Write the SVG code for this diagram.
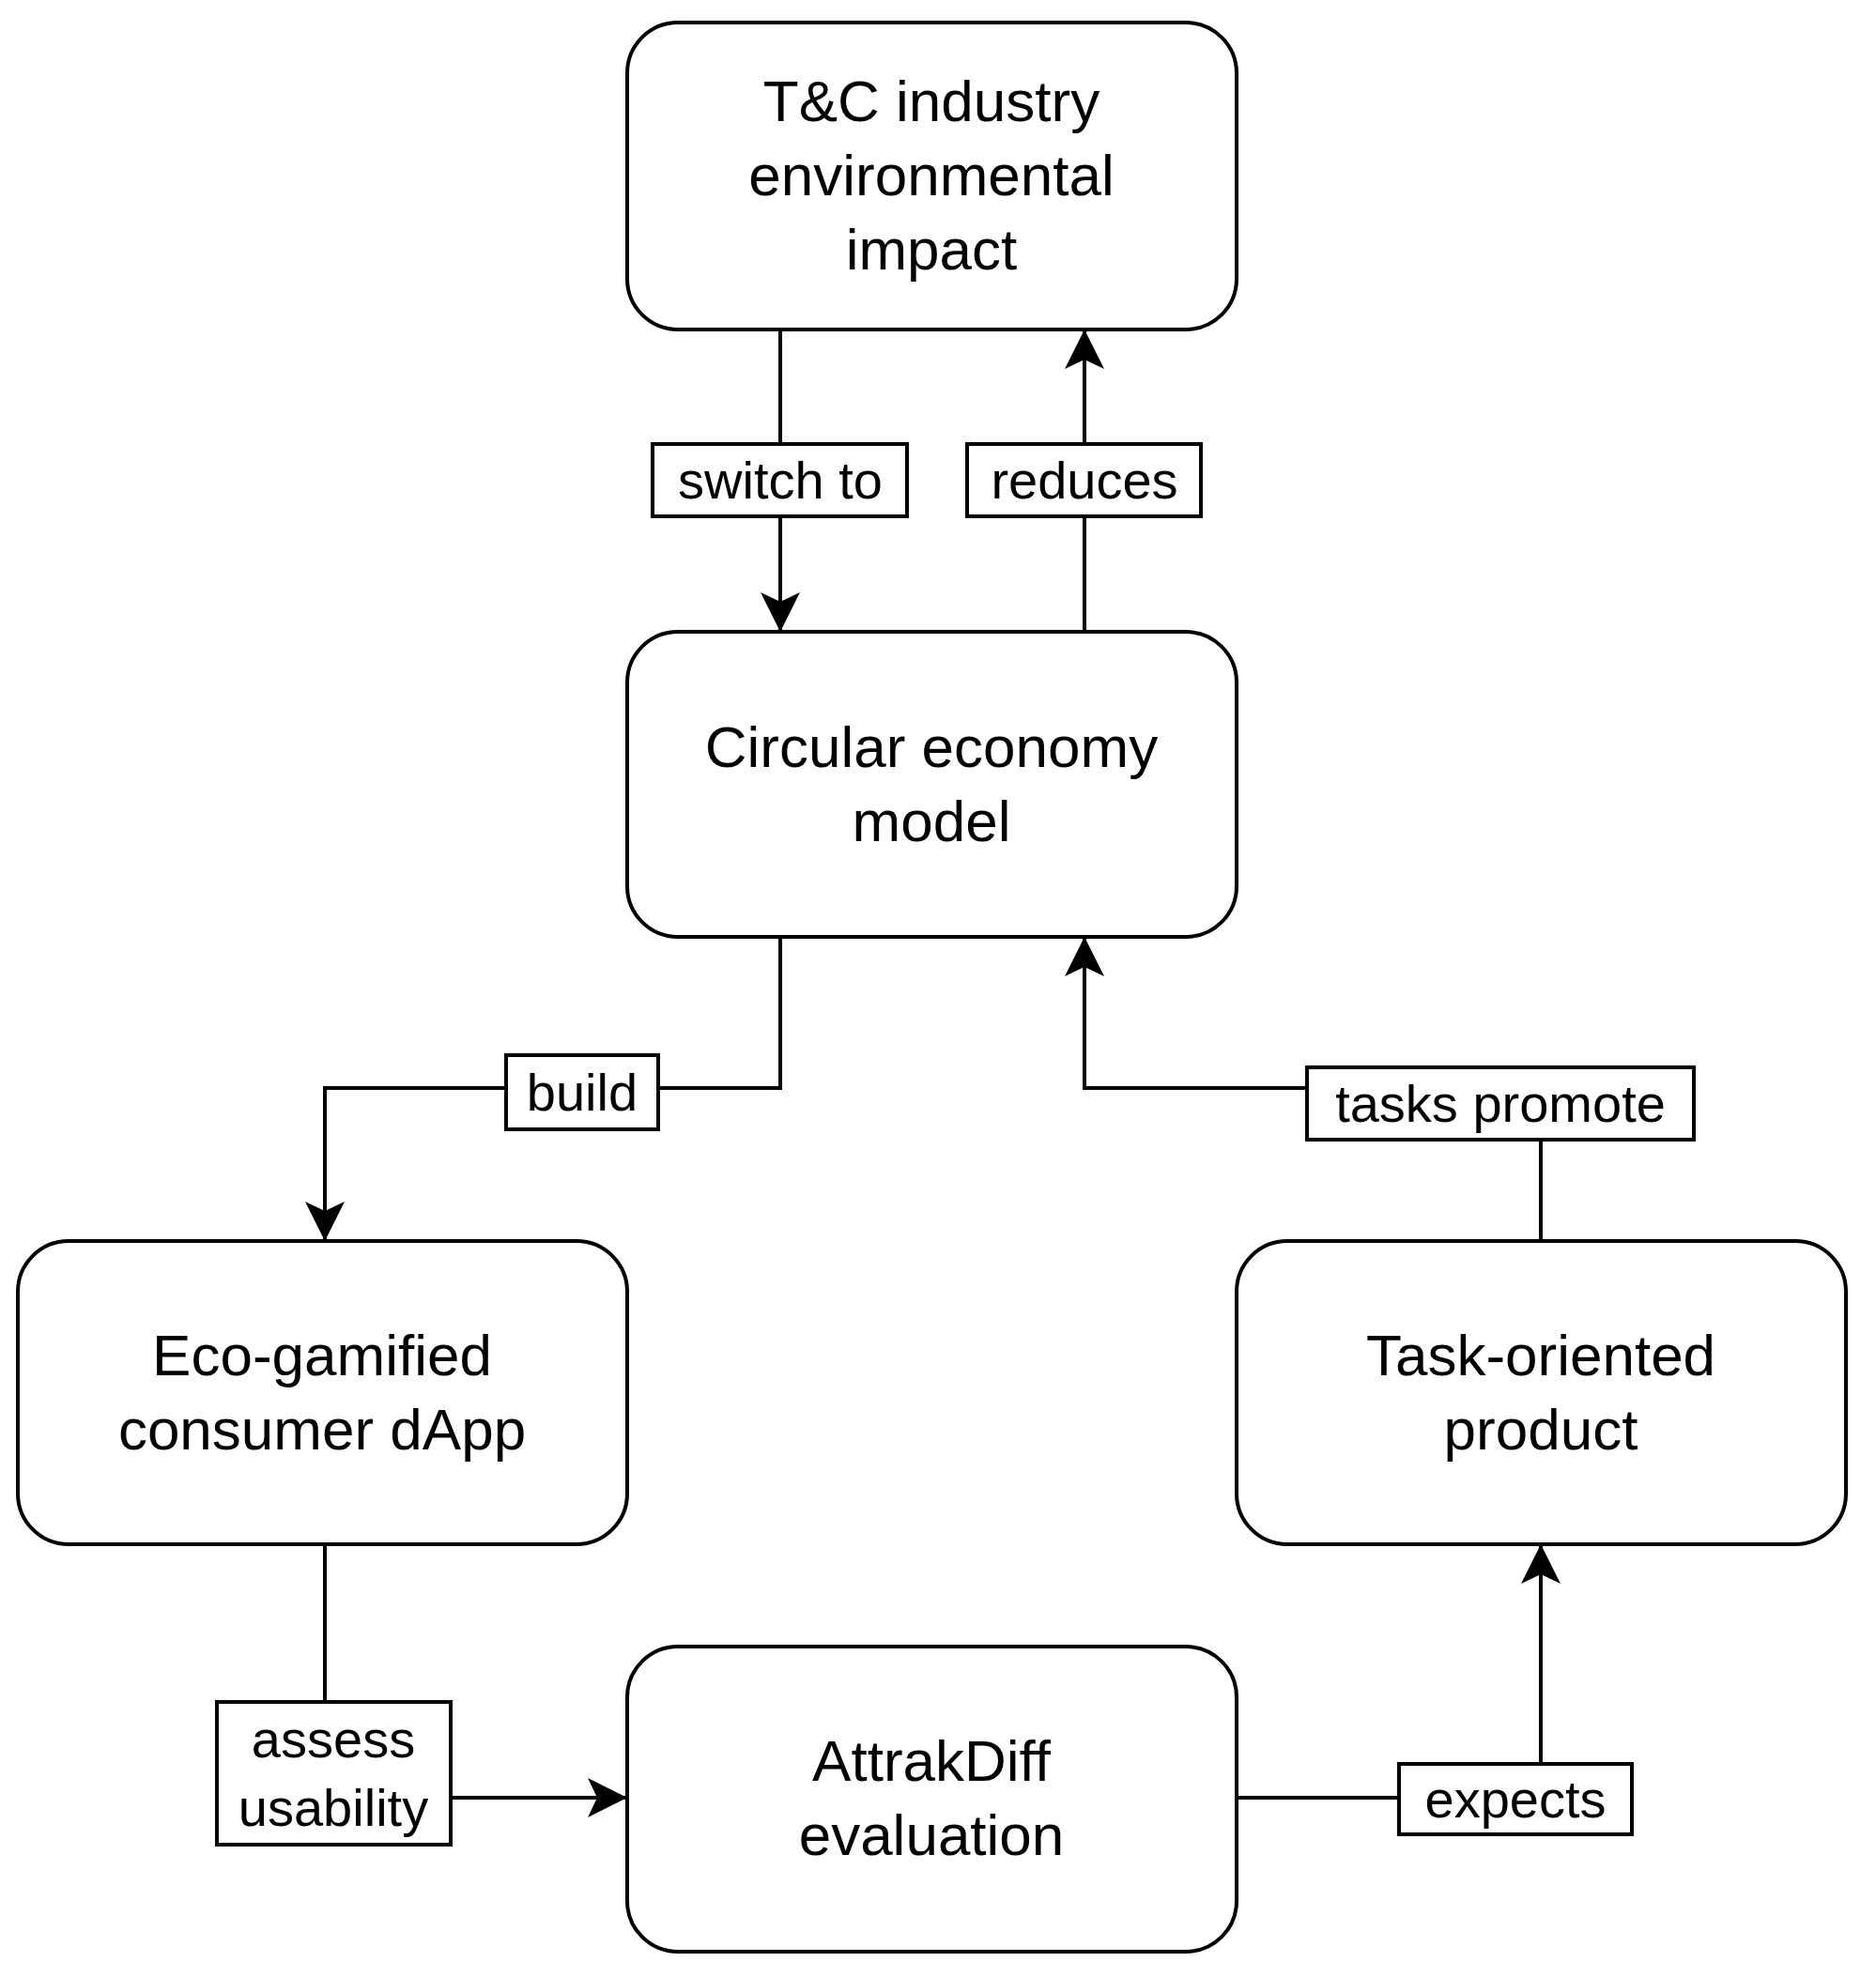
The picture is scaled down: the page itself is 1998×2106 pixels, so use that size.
<svg xmlns="http://www.w3.org/2000/svg" width="1998" height="2106" viewBox="0 0 1998 2106">
<style>
.n{fill:#fff;stroke:#000;stroke-width:4}
.t{font-family:"Liberation Sans",Arial,sans-serif;font-size:62px;text-anchor:middle;fill:#000}
.l{font-family:"Liberation Sans",Arial,sans-serif;font-size:56px;text-anchor:middle;fill:#000}
.e{fill:none;stroke:#000;stroke-width:4}
.lb{fill:#fff;stroke:#000;stroke-width:4}
</style>
<defs>
<marker id="a" markerUnits="userSpaceOnUse" markerWidth="50" markerHeight="50" refX="44" refY="25" orient="auto" viewBox="0 0 50 50">
<path d="M44,25 L2,4 L12,25 L2,46 Z" fill="#000"/>
</marker>
</defs>
<rect width="1998" height="2106" fill="#fff"/>
<g id="connectors">
<path class="e" d="M831,351 V673" marker-end="url(#a)"/>
<path class="e" d="M1155,673 V351" marker-end="url(#a)"/>
<path class="e" d="M831,998 V1159 H346 V1322" marker-end="url(#a)"/>
<path class="e" d="M1641,1322 V1159 H1155 V998" marker-end="url(#a)"/>
<path class="e" d="M346,1645 V1915 H668" marker-end="url(#a)"/>
<path class="e" d="M1317,1915 H1641 V1645" marker-end="url(#a)"/>
<rect class="lb" x="695" y="473" width="271" height="77"/><text class="l" x="831" y="531">switch to</text>
<rect class="lb" x="1030" y="473" width="249" height="77"/><text class="l" x="1155" y="531">reduces</text>
<rect class="lb" x="539" y="1124" width="162" height="79"/><text class="l" x="620" y="1183">build</text>
<rect class="lb" x="1392" y="1137" width="412" height="77"/><text class="l" x="1598" y="1195">tasks promote</text>
<rect class="lb" x="231" y="1813" width="249" height="152"/><text class="l" x="355" y="1872">assess</text><text class="l" x="355" y="1945">usability</text>
<rect class="lb" x="1490" y="1879" width="248" height="75"/><text class="l" x="1614" y="1936">expects</text>
</g>
<g id="n1"><rect class="n" x="668" y="24" width="649" height="327" rx="54"/>
<text class="t" x="992" y="129">T&amp;C industry</text><text class="t" x="992" y="208">environmental</text><text class="t" x="992" y="287">impact</text></g>
<g id="n2"><rect class="n" x="668" y="673" width="649" height="325" rx="54"/>
<text class="t" x="992" y="817">Circular economy</text><text class="t" x="992" y="896">model</text></g>
<g id="n3"><rect class="n" x="19" y="1322" width="649" height="323" rx="54"/>
<text class="t" x="343" y="1465">Eco-gamified</text><text class="t" x="343" y="1544">consumer dApp</text></g>
<g id="n4"><rect class="n" x="1317" y="1322" width="649" height="323" rx="54"/>
<text class="t" x="1641" y="1465">Task-oriented</text><text class="t" x="1641" y="1544">product</text></g>
<g id="n5"><rect class="n" x="668" y="1754" width="649" height="325" rx="54"/>
<text class="t" x="992" y="1897">AttrakDiff</text><text class="t" x="992" y="1976">evaluation</text></g>
</svg>
